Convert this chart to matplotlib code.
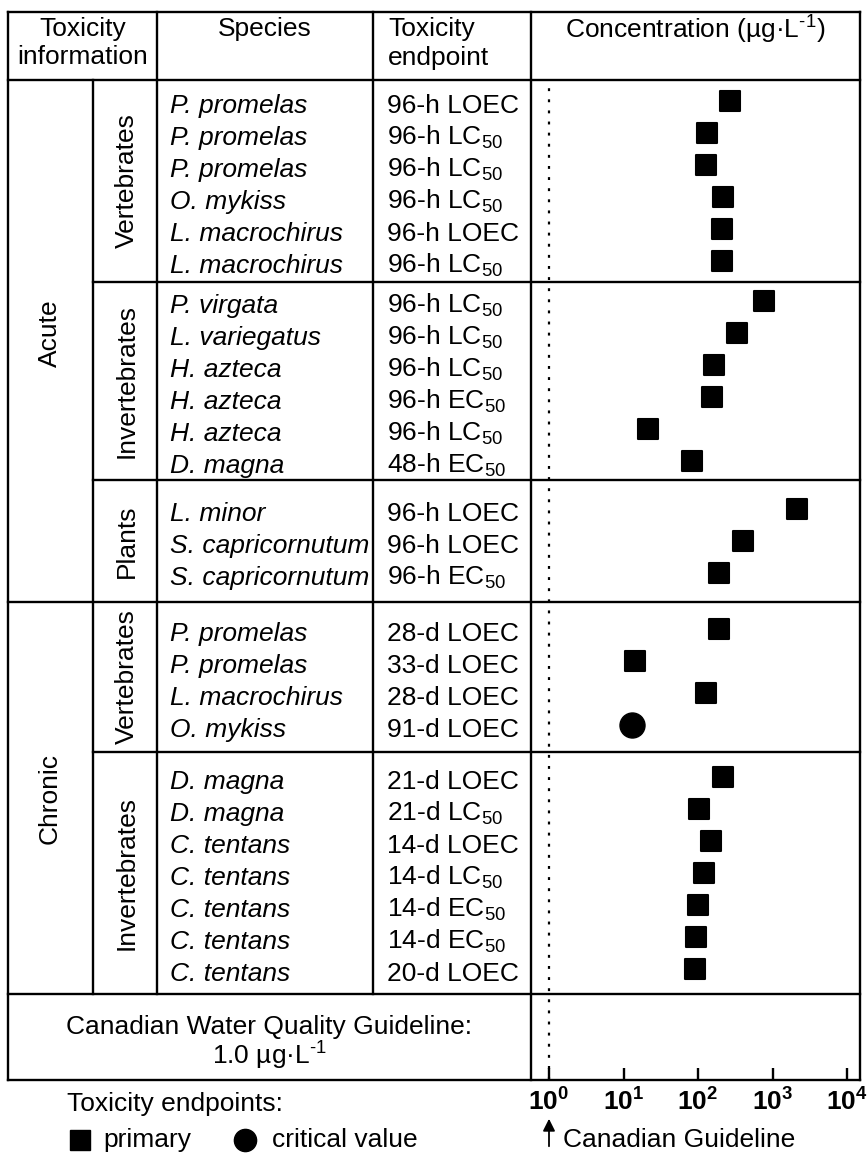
import numpy as np
import matplotlib
matplotlib.use("Agg")
import matplotlib.pyplot as plt
from matplotlib.markers import MarkerStyle

plt.rcParams['font.family'] = ['Liberation Sans', 'DejaVu Sans']
plt.rcParams['mathtext.fontset'] = 'custom'
plt.rcParams['mathtext.rm'] = 'Liberation Sans'
plt.rcParams['mathtext.it'] = 'Liberation Sans:italic'
plt.rcParams['mathtext.bf'] = 'Liberation Sans:bold'

# data
groups = [("Acute", "Vertebrates", 6), ("Acute", "Invertebrates", 6), ("Acute", "Plants", 3),
          ("Chronic", "Vertebrates", 4), ("Chronic", "Invertebrates", 7)]
species = ["P. promelas", "P. promelas", "P. promelas", "O. mykiss", "L. macrochirus", "L. macrochirus",
           "P. virgata", "L. variegatus", "H. azteca", "H. azteca", "H. azteca", "D. magna",
           "L. minor", "S. capricornutum", "S. capricornutum",
           "P. promelas", "P. promelas", "L. macrochirus", "O. mykiss",
           "D. magna", "D. magna", "C. tentans", "C. tentans", "C. tentans", "C. tentans", "C. tentans"]
endpoints = ["96-h LOEC", "96-h LC$_{50}$", "96-h LC$_{50}$", "96-h LC$_{50}$", "96-h LOEC", "96-h LC$_{50}$",
             "96-h LC$_{50}$", "96-h LC$_{50}$", "96-h LC$_{50}$", "96-h EC$_{50}$", "96-h LC$_{50}$", "48-h EC$_{50}$",
             "96-h LOEC", "96-h LOEC", "96-h EC$_{50}$",
             "28-d LOEC", "33-d LOEC", "28-d LOEC", "91-d LOEC",
             "21-d LOEC", "21-d LC$_{50}$", "14-d LOEC", "14-d LC$_{50}$", "14-d EC$_{50}$", "14-d EC$_{50}$", "20-d LOEC"]
values = [269, 132, 128, 216, 210, 210,
          770, 333, 164, 155, 21, 83,
          2140, 400, 191,
          191, 14.3, 128, 13,
          216, 103, 149, 121, 100, 94, 91]
kinds = ["primary"] * 18 + ["critical"] + ["primary"] * 7
guideline = 1.0
xticks = [1, 10, 100, 1000, 10000]

# layout (pixels)
W, H = 867, 1153
X_L, X_SUB, X_SP, X_EP, X_PL, X_R = 8, 93, 157, 373, 531, 860
Y_T, Y_H, Y_G, Y_B = 12, 80, 994, 1080
bounds = [80, 282, 480, 602, 752, 994]
step = 32
FS = 19
UNIT = r"µg·L$^{\text{-}1}$"

row_y = []
for k, (_, _, n) in enumerate(groups):
    c = (bounds[k] + bounds[k + 1]) / 2
    row_y += list(c + (np.arange(n) - (n - 1) / 2) * step)
row_y = np.array(row_y)

fig = plt.figure(figsize=(W / 100, H / 100), dpi=100)
tab = fig.add_axes([0, 0, 1, 1])
tab.set_xlim(0, W)
tab.set_ylim(H, 0)
tab.axis('off')

def line(x0, x1, y0, y1):
    tab.plot([x0, x1], [y0, y1], color='k', lw=1.7, solid_capstyle='projecting')

line(X_L, X_R, Y_T, Y_T)
line(X_L, X_R, Y_H, Y_H)
for b in [282, 480, 752]:
    line(X_SUB, X_R, b, b)
line(X_L, X_R, 602, 602)
line(X_L, X_R, Y_G, Y_G)
line(X_L, X_R, Y_B, Y_B)
for x in [X_L, X_PL, X_R]:
    line(x, x, Y_T, Y_B)
for x in [X_SP, X_EP]:
    line(x, x, Y_T, Y_G)
line(X_SUB, X_SUB, Y_H, Y_G)

# header
tab.text((X_L + X_SP) / 2, 29, "Toxicity", ha='center', va='center', fontsize=FS)
tab.text((X_L + X_SP) / 2, 57, "information", ha='center', va='center', fontsize=FS)
tab.text((X_SP + X_EP) / 2, 29, "Species", ha='center', va='center', fontsize=FS)
tab.text(X_EP + 15, 29, "Toxicity", ha='left', va='center', fontsize=FS)
tab.text(X_EP + 15, 58, "endpoint", ha='left', va='center', fontsize=FS)
tab.text((X_PL + X_R) / 2, 30, "Concentration (" + UNIT + ")", ha='center', va='center', fontsize=FS)

# group labels
tab.text((X_L + X_SUB) / 2 - 1, 333, "Acute", rotation=90, ha='center', va='center', fontsize=FS)
tab.text((X_L + X_SUB) / 2 - 1, 798, "Chronic", rotation=90, ha='center', va='center', fontsize=FS)
for k, (_, sub, _) in enumerate(groups):
    tab.text((X_SUB + X_SP) / 2 + 2, (bounds[k] + bounds[k + 1]) / 2, sub, rotation=90,
             ha='center', va='center', fontsize=FS)

for y, sp, ep in zip(row_y, species, endpoints):
    tab.text(X_SP + 13, y + 12, sp, ha='left', va='baseline', fontsize=FS, fontstyle='italic')
    tab.text(X_EP + 14, y + 12, ep, ha='left', va='baseline', fontsize=FS)

tab.text((X_L + X_PL) / 2, 1027, "Canadian Water Quality Guideline:", ha='center', va='center', fontsize=FS)
tab.text((X_L + X_PL) / 2, 1056, "1.0 " + UNIT, ha='center', va='center', fontsize=FS)

# legend
tab.text(67, 1104, "Toxicity endpoints:", ha='left', va='center', fontsize=FS)
tab.plot(80, 1140, 's', color='k', ms=14)
tab.text(103, 1140, "primary", ha='left', va='center', fontsize=FS)
tab.plot(245, 1140, 'o', color='k', ms=16)
tab.text(272, 1140, "critical value", ha='left', va='center', fontsize=FS)

# plot panel
ax = fig.add_axes([X_PL / W, (H - Y_B) / H, (X_R - X_PL) / W, (Y_B - Y_H) / H])
ax.set_facecolor('none')
ax.set_xscale('log')
ax.set_xlim(10 ** ((X_PL - 549) / 74.5), 10 ** ((X_R - 549) / 74.5))
ax.set_ylim(Y_B, Y_H)
for s in ax.spines.values():
    s.set_visible(False)
ax.set_yticks([])
ax.set_xticks(xticks)
ax.set_xticklabels([r'$\mathbf{10^{%d}}$' % int(np.log10(t)) for t in xticks])
ax.minorticks_off()
ax.tick_params(axis='x', which='major', direction='in', length=9, width=1.7, pad=6,
               labelsize=19)

ax.axvline(guideline, ymax=0.997, color='k', lw=1.6, ls=(0, (1.3, 3.7)))

values = np.array(values)
kinds = np.array(kinds)
p = kinds == "primary"
sq = MarkerStyle('s', joinstyle='round')
ax.plot(values[p], row_y[p], marker=sq, color='k', ms=14, mew=1.5, mec='k', ls='none')
ax.plot(values[~p], row_y[~p], 'o', color='k', ms=18, ls='none')

ax.annotate('', xy=(guideline, -0.036), xytext=(guideline, -0.069),
            xycoords=('data', 'axes fraction'), textcoords=('data', 'axes fraction'),
            arrowprops=dict(arrowstyle='-|>', color='k', lw=1.3, mutation_scale=18),
            annotation_clip=False)
tab.text(563, 1140, "Canadian Guideline", ha='left', va='center', fontsize=FS)

fig.savefig("out.png", dpi=100)
